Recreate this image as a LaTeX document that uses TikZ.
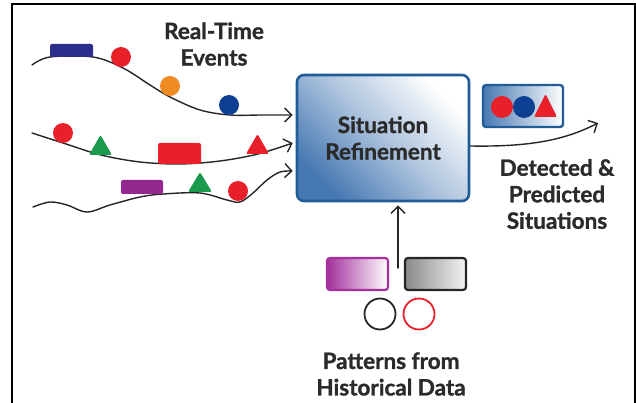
\documentclass[tikz,border=0pt]{standalone}
\usepackage{fontspec}
\setmainfont{Lato}
\newfontfamily\heavyfont{Lato}[BoldFeatures={FakeBold=1.3}]
\usetikzlibrary{arrows.meta}

\definecolor{inkgray}{HTML}{2B2B2B}
\definecolor{boxedge}{HTML}{1F5C98}
\definecolor{boxblue}{HTML}{4678B2}
\definecolor{evnavy}{HTML}{2C2E8E}
\definecolor{evred}{HTML}{E8202A}
\definecolor{evorange}{HTML}{F08A24}
\definecolor{evblue}{HTML}{0D3F93}
\definecolor{evgreen}{HTML}{1A9A4C}
\definecolor{evpurple}{HTML}{93278F}
\definecolor{patmagenta}{HTML}{A3309C}
\definecolor{patgray}{HTML}{8A8A8A}

\begin{document}
\begin{tikzpicture}[x=1pt,y=-1pt,
  label/.style={font=\heavyfont\fontsize{22.5}{26.5}\selectfont\bfseries, text=inkgray, align=center},
  stream/.style={draw=black!85, line width=1.4pt, line cap=round,
    -{Straight Barb[length=7pt,width=14pt,line width=1.4pt]}},
  ball/.style={circle, inner sep=0pt, minimum size=20pt},
  chip/.style={rectangle, rounded corners=2pt, inner sep=0pt},
]
\useasboundingbox (0,0) rectangle (636,403);

% frame
\draw[line width=2.6pt] (12,403) -- (12,4) -- (635,4) -- (635,403);

% central processing box
\node[rectangle, rounded corners=7pt, draw=boxedge, line width=2.6pt,
  top color=white, bottom color=boxblue, middle color=boxblue!45, shading angle=-45,
  minimum width=172pt, minimum height=126pt, label] (sr) at (383,138)
  {Situation\\Refinement};

% event streams
\draw[stream] plot[smooth, tension=0.55] coordinates {(32,65) (50,57) (93,57) (123,68) (150,85) (170,97) (200,110) (230,115) (262,115) ([xshift=-3pt,yshift=23pt]sr.west)};
\draw[stream] plot[smooth, tension=0.55] coordinates {(32,133) (63,143) (101,155) (140,162) (180,164) (220,161) (258,154) ([xshift=-3pt,yshift=-5pt]sr.west)};
\draw[stream] plot[smooth, tension=0.55] coordinates {(33,207) (50,202) (67,205) (87,212) (110,205) (140,197) (163,194) (200,193) (227,200) (240,202) (253,193) (267,180) (280,172) ([xshift=-3pt,yshift=-33pt]sr.west)};

% events on stream 1
\node[chip, fill=evnavy, minimum width=43pt, minimum height=13pt] (e1) at (71.5,50.5) {};
\node[ball, fill=evred] (e2) at (121,57) {};
\node[ball, fill=evorange] (e3) at (170,86) {};
\node[ball, fill=evblue] (e4) at (229,105) {};

% events on stream 2
\node[ball, fill=evred] (e5) at (63,133) {};
\fill[evgreen, rounded corners=2pt] (89,155) -- (112,155) -- (100.5,135) -- cycle;
\node[chip, fill=evred, minimum width=43pt, minimum height=21pt] (e6) at (179.5,153.5) {};
\fill[evred, rounded corners=2pt] (246,154) -- (269,154) -- (257.5,134) -- cycle;

% events on stream 3
\node[chip, fill=evpurple, minimum width=42pt, minimum height=14pt] (e7) at (142,187) {};
\fill[evgreen, rounded corners=2pt] (188,192) -- (212,192) -- (200,172) -- cycle;
\node[ball, fill=evred] (e8) at (238,191) {};

\node[label] (rte) at (214,44) {Real-Time\\Events};

% detected situations
\node[rectangle, rounded corners=3pt, draw=boxedge, line width=2.4pt,
  left color=boxblue, right color=white,
  minimum width=80pt, minimum height=42pt] (res) at (523,106) {};
\node[ball, fill=evred, minimum size=22pt] (r1) at (502,107) {};
\node[ball, fill=evblue, minimum size=22pt] (r2) at (524,107) {};
\fill[evred, rounded corners=2pt] (534,117) -- (557,117) -- (545.5,94) -- cycle;

\coordinate (outtip) at (598,123);
\draw[stream] ([yshift=-8pt]sr.east) .. controls (530,147) and (565,140) .. (outtip);
\node[label] (dps) at (557,194) {Detected \&\\Predicted\\Situations};

% historical patterns
\node[chip, rounded corners=3pt, draw=patmagenta, line width=2.2pt,
  left color=patmagenta, right color=white,
  minimum width=61pt, minimum height=32pt] (pm) at (357.5,274) {};
\node[chip, rounded corners=3pt, draw=black!85, line width=2.2pt,
  left color=patgray, right color=white!95!black,
  minimum width=61pt, minimum height=32pt] (pg) at (435.5,274) {};
\node[circle, draw=black!85, line width=1.8pt, minimum size=31pt, inner sep=0pt] (pc1) at (380,314) {};
\node[circle, draw=evred, line width=1.8pt, minimum size=31pt, inner sep=0pt] (pc2) at (419,314) {};

\coordinate (histtop) at (398,268);
\draw[stream] (histtop) -- ([xshift=15pt,yshift=-3pt]sr.south);
\node[label] (phd) at (391,374) {Patterns from\\Historical Data};
\end{tikzpicture}
\end{document}
